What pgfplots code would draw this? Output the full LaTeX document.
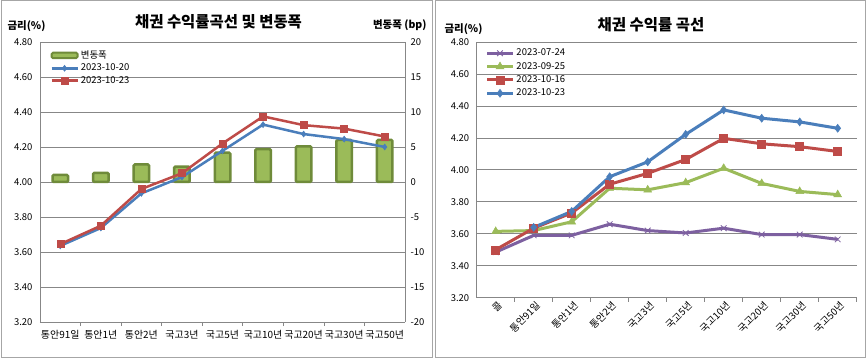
\documentclass[border=0pt]{standalone}
\usepackage{pgfplots}
\pgfplotsset{compat=1.18}
\usepackage{pgfplotstable}
\usepackage{fontspec}
\setmainfont{Noto Sans CJK KR}
\definecolor{cblue}{HTML}{4A7EBB}
\definecolor{cred}{HTML}{BE4B48}
\definecolor{cgreen}{HTML}{9BBB59}
\definecolor{cpurple}{HTML}{7D60A0}
\definecolor{colive}{HTML}{6F8B3A}
\definecolor{cgrid}{HTML}{878787}
\definecolor{cframe}{HTML}{A6A6A6}

\pgfplotstableread{
x d1020 d1023 chg
0 3.635 3.645 1.0
1 3.737 3.750 1.3
2 3.935 3.960 2.5
3 4.028 4.050 2.2
4 4.178 4.220 4.2
5 4.328 4.375 4.7
6 4.274 4.325 5.1
7 4.245 4.305 6.0
8 4.200 4.260 6.0
}\lefttab

\pgfplotstableread{
x d0724 d0925 d1016
0 3.485 3.615 3.500
1 3.590 3.620 3.635
2 3.590 3.675 3.730
3 3.660 3.885 3.910
4 3.620 3.875 3.978
5 3.605 3.920 4.065
6 3.635 4.010 4.197
7 3.595 3.915 4.163
8 3.595 3.865 4.145
9 3.565 3.845 4.115
}\righttab

\pgfplotstableread{
x d1023
1 3.640
2 3.740
3 3.957
4 4.050
5 4.222
6 4.375
7 4.323
8 4.300
9 4.260
}\rightblue

\pgfplotsset{
  ticklab/.style={font=\fontsize{9.5}{10}\selectfont},
  legfont/.style={font=\fontsize{9.5}{10}\selectfont},
}

\begin{document}
\begin{tikzpicture}
\fill[white] (0bp,0bp) rectangle (867bp,358bp);
\draw[cframe, line width=0.8bp] (1.5bp,0.5bp) rectangle (432.5bp,357.5bp);
\draw[cframe, line width=0.8bp] (435.5bp,0.5bp) rectangle (865.5bp,357.5bp);

% ---------- left: bars on the secondary axis ----------
\begin{axis}[at={(40bp,36bp)}, anchor=south west, scale only axis,
  width=365bp, height=280bp,
  xmin=-0.5, xmax=8.5, ymin=-20, ymax=20,
  hide x axis, axis y line*=right, y axis line style={cgrid,-, line width=0.75bp},
  ytick={-20,-15,-10,-5,0,5,10,15,20},
  yticklabels={-20,-15,-10,-5,0,5,10,15,20},
  major tick length=0pt,
  ymajorgrids, grid style={cgrid, line width=0.75bp},
  yticklabel style={ticklab, xshift=2bp},
  clip=false]
\addplot[ybar, bar width=15.5bp, fill=cgreen, draw=colive, line width=2.5bp, rounded corners=1.2bp]
  table[x=x,y=chg]{\lefttab};
\end{axis}

% ---------- left: yield lines on the primary axis ----------
\begin{axis}[at={(40bp,36bp)}, anchor=south west, scale only axis,
  width=365bp, height=280bp,
  xmin=-0.5, xmax=8.5, ymin=3.2, ymax=4.8,
  axis x line*=bottom, axis y line*=left, axis line style={cgrid,-, line width=0.75bp},
  ytick={3.2,3.4,3.6,3.8,4.0,4.2,4.4,4.6,4.8},
  yticklabels={3.20,3.40,3.60,3.80,4.00,4.20,4.40,4.60,4.80},
  xtick={0,1,2,3,4,5,6,7,8},
  xticklabels={통안91일,통안1년,통안2년,국고3년,국고5년,국고10년,국고20년,국고30년,국고50년},
  major tick length=0pt,
  minor xtick={0.5,1.5,2.5,3.5,4.5,5.5,6.5,7.5},
  minor tick length=4bp, tick align=outside, minor tick style={cgrid, line width=0.75bp},
  yticklabel style={ticklab, xshift=-4bp},
  xticklabel style={font=\fontsize{10}{11}\selectfont, yshift=-5bp, inner xsep=0pt},
  legend style={at={(0.025,0.98)}, anchor=north west, draw=none, fill=none, legfont,
    row sep=0bp, inner sep=1bp},
  legend cell align=left,
  legend image code/.code={\draw[mark repeat=2, mark phase=2, #1] plot coordinates {(0bp,0bp) (13bp,0bp) (26bp,0bp)};},
  clip=false]
\addlegendimage{legend image code/.code={\draw[fill=cgreen, draw=colive, line width=2bp, rounded corners=1.5bp] (0bp,-2.8bp) rectangle (26bp,2.8bp);}}
\addlegendentry{변동폭}
\addplot[cblue, line width=2.5bp, mark=diamond*, mark size=3bp, mark options={line width=0.5bp}]
  table[x=x,y=d1020]{\lefttab};
\addlegendentry{2023-10-20}
\addplot[cred, line width=2.5bp, mark=square*, mark size=3.5bp, mark options={line width=0.5bp}]
  table[x=x,y=d1023]{\lefttab};
\addlegendentry{2023-10-23}
\end{axis}

% ---------- right: yield curves ----------
\begin{axis}[at={(476.7bp,60.3bp)}, anchor=south west, scale only axis,
  width=380bp, height=255.7bp,
  xmin=-0.5, xmax=9.5, ymin=3.2, ymax=4.8,
  axis x line*=bottom, axis y line*=left, axis line style={cgrid,-, line width=0.75bp},
  ymajorgrids, grid style={cgrid, line width=0.75bp},
  ytick={3.2,3.4,3.6,3.8,4.0,4.2,4.4,4.6,4.8},
  yticklabels={3.20,3.40,3.60,3.80,4.00,4.20,4.40,4.60,4.80},
  xtick={0,1,2,3,4,5,6,7,8,9},
  xticklabels={콜,통안91일,통안1년,통안2년,국고3년,국고5년,국고10년,국고20년,국고30년,국고50년},
  major tick length=0pt,
  minor xtick={0.5,1.5,2.5,3.5,4.5,5.5,6.5,7.5,8.5,9.5},
  minor tick length=4bp, tick align=outside, minor tick style={cgrid, line width=0.75bp},
  yticklabel style={ticklab, xshift=-4bp},
  xticklabel style={font=\fontsize{9.8}{10}\selectfont, rotate=45, anchor=north east, inner sep=1bp, yshift=-2bp},
  legend style={at={(0.02,0.985)}, anchor=north west, draw=none, fill=none, legfont,
    row sep=1bp, inner sep=1bp},
  legend cell align=left,
  legend image code/.code={\draw[mark repeat=2, mark phase=2, #1] plot coordinates {(0bp,0bp) (13bp,0bp) (26bp,0bp)};},
  clip=false]
\addplot[cpurple, line width=3bp, mark=x, mark size=4bp, mark options={line width=0.8bp}]
  table[x=x,y=d0724]{\righttab};
\addlegendentry{2023-07-24}
\addplot[cgreen, line width=3bp, mark=triangle*, mark size=4.5bp, mark options={line width=0.5bp}]
  table[x=x,y=d0925]{\righttab};
\addlegendentry{2023-09-25}
\addplot[cred, line width=3bp, mark=square*, mark size=4bp, mark options={line width=0.5bp}]
  table[x=x,y=d1016]{\righttab};
\addlegendentry{2023-10-16}
\addplot[cblue, line width=3bp, mark=diamond*, mark size=4bp, mark options={line width=0.5bp}]
  table[x=x,y=d1023]{\rightblue};
\addlegendentry{2023-10-23}
\end{axis}

% ---------- titles and axis names ----------
\node[font=\fontsize{15.5}{16}\selectfont\bfseries] at (218.5bp,336.3bp) {채권 수익률곡선 및 변동폭};
\node[font=\fontsize{10.5}{12}\selectfont\bfseries, anchor=west] at (4bp,332.3bp) {금리(\%)};
\node[font=\fontsize{10.5}{12}\selectfont\bfseries, anchor=east] at (430bp,333bp) {변동폭 (bp)};
\node[font=\fontsize{15.5}{16}\selectfont\bfseries] at (651bp,333bp) {채권 수익률 곡선};
\node[font=\fontsize{10.5}{12}\selectfont\bfseries, anchor=west] at (441bp,329bp) {금리(\%)};
\end{tikzpicture}
\end{document}
